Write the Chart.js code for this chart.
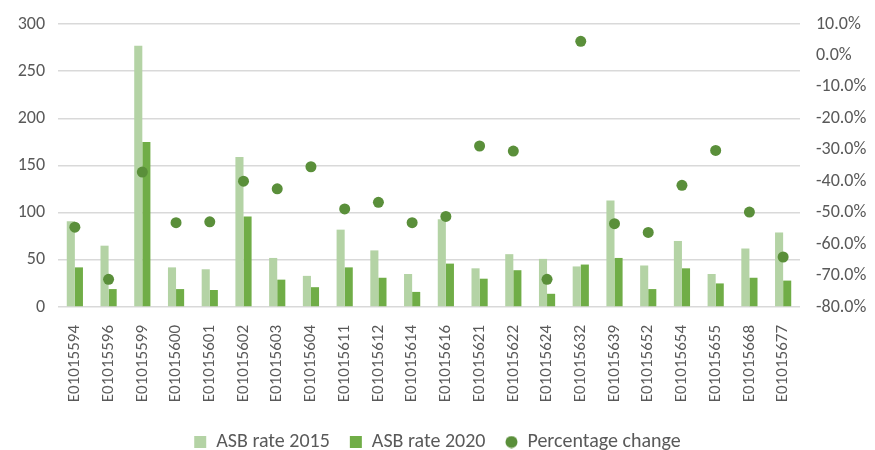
<!DOCTYPE html>
<html>
<head>
<meta charset="utf-8">
<script src="https://cdn.jsdelivr.net/npm/chart.js@4.4.1/dist/chart.umd.min.js"></script>
<style>
  body { margin: 0; background: #fff; }
  #wrap { width: 875px; height: 450px; }
</style>
</head>
<body>
<div id="wrap"><canvas id="chart" width="875" height="450"></canvas></div>
<script>
const areas = ["E01015594", "E01015596", "E01015599", "E01015600", "E01015601", "E01015602",
  "E01015603", "E01015604", "E01015611", "E01015612", "E01015614", "E01015616",
  "E01015621", "E01015622", "E01015624", "E01015632", "E01015639", "E01015652",
  "E01015654", "E01015655", "E01015668", "E01015677"];

const rate2015 = [91, 65, 277, 42, 40, 159, 52, 33, 82, 60, 35, 93,
  41, 56, 51, 43, 113, 44, 70, 35, 62, 79];

const rate2020 = [42, 19, 175, 19, 18, 96, 29, 21, 42, 31, 16, 46,
  30, 39, 14, 45, 52, 19, 41, 25, 31, 28];

const pctChange = [-54.6, -71.2, -37.1, -53.2, -52.9, -40.0, -42.4, -35.4, -48.8, -46.7, -53.2, -51.2,
  -28.8, -30.4, -71.2, 4.5, -53.5, -56.3, -41.3, -30.2, -49.8, -64.1];

const FONT = "Carlito, Calibri, Lato, sans-serif";
const GREY = "#595959";
const DOT = "#5a8f3a";

// small circle for the legend entry of the scatter series
const legendDot = document.createElement("canvas");
legendDot.width = 13;
legendDot.height = 13;
const dctx = legendDot.getContext("2d");
dctx.fillStyle = DOT;
dctx.beginPath();
dctx.arc(6.5, 6.5, 6, 0, Math.PI * 2);
dctx.fill();

new Chart(document.getElementById("chart"), {
  type: "bar",
  data: {
    labels: areas,
    datasets: [
      {
        label: "ASB rate 2015",
        data: rate2015,
        backgroundColor: "#b4d3a5",
        yAxisID: "y",
        order: 1,
        pointStyle: "rect",
        categoryPercentage: 0.48,
        barPercentage: 1.0
      },
      {
        label: "ASB rate 2020",
        data: rate2020,
        backgroundColor: "#70ad47",
        yAxisID: "y",
        order: 1,
        pointStyle: "rect",
        categoryPercentage: 0.48,
        barPercentage: 1.0
      },
      {
        type: "line",
        label: "Percentage change",
        data: pctChange,
        yAxisID: "y1",
        order: 0,
        showLine: false,
        pointStyle: "circle",
        pointRadius: 5.5,
        backgroundColor: DOT,
        borderColor: DOT,
        borderWidth: 0
      }
    ]
  },
  options: {
    responsive: false,
    animation: false,
    layout: { padding: { top: 24, left: 0, right: 0, bottom: -12 } },
    plugins: {
      tooltip: { enabled: false },
      legend: {
        position: "bottom",
        labels: {
          color: GREY,
          font: { family: FONT, size: 20 },
          usePointStyle: true,
          boxWidth: 12,
          boxHeight: 12,
          padding: 20,
          sort: (a, b) => a.datasetIndex - b.datasetIndex,
          generateLabels: chart => {
            const items = Chart.defaults.plugins.legend.labels.generateLabels(chart);
            items.forEach(it => { if (it.datasetIndex === 2) it.pointStyle = legendDot; });
            return items;
          }
        }
      }
    },
    scales: {
      x: {
        grid: { display: false },
        border: { display: false },
        ticks: {
          color: GREY,
          font: { family: FONT, size: 17 },
          minRotation: 90,
          maxRotation: 90,
          autoSkip: false,
          padding: 10
        },
        afterFit: s => { s.height = 105; }
      },
      y: {
        position: "left",
        min: 0,
        max: 300,
        ticks: {
          stepSize: 50,
          color: GREY,
          font: { family: FONT, size: 18 },
          padding: 13
        },
        grid: { color: "#d9d9d9", lineWidth: 1.5, drawTicks: false },
        border: { display: false },
        afterFit: s => { s.width = 58; s.paddingTop = 0; s.paddingBottom = 0; }
      },
      y1: {
        position: "right",
        min: -80,
        max: 10,
        ticks: {
          stepSize: 10,
          color: GREY,
          font: { family: FONT, size: 18 },
          padding: 16,
          callback: v => v.toFixed(1) + "%"
        },
        grid: { display: false, drawTicks: false },
        border: { display: false },
        afterFit: s => { s.width = 75; s.paddingTop = 0; s.paddingBottom = 0; }
      }
    }
  }
});
</script>
</body>
</html>
